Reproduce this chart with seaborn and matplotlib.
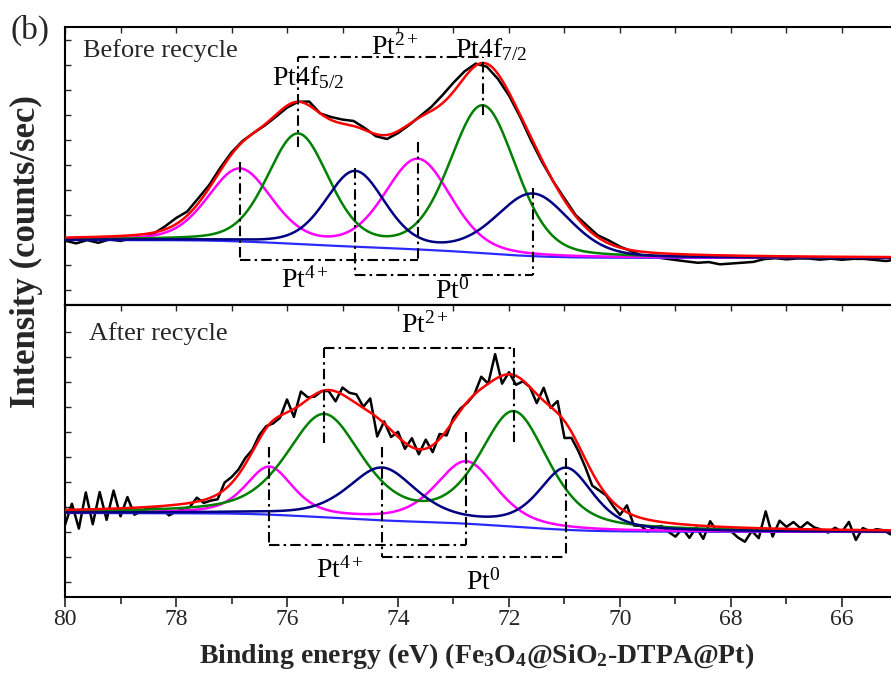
import numpy as np
import pandas as pd
import seaborn as sns
import matplotlib
matplotlib.use("Agg")
import matplotlib.pyplot as plt
from matplotlib.ticker import MultipleLocator, FixedLocator

# ---------------------------------------------------------------------------
# Pt 4f fit parameters (binding energy in eV, intensity in arbitrary units)
# order: Pt4+ 4f5/2, Pt4+ 4f7/2, Pt2+ 4f5/2, Pt2+ 4f7/2, Pt0 4f5/2, Pt0 4f7/2
# ---------------------------------------------------------------------------
species = ["Pt4+", "Pt4+", "Pt2+", "Pt2+", "Pt0", "Pt0"]

before_center = [76.85, 73.64, 75.80, 72.47, 74.77, 71.57]
before_height = [72, 90, 109, 147, 75, 62]
before_fwhm = [1.35, 1.40, 1.30, 1.40, 1.25, 1.55]
before_lorentz = 0.25
before_bg = [65, 47]          # Shirley background: high-BE end, low-BE end

after_center = [76.32, 72.77, 75.33, 71.91, 74.29, 70.97]
after_height = [47, 62, 101, 113, 52, 61]
after_fwhm = [1.00, 1.30, 1.60, 1.45, 1.45, 1.15]
after_lorentz = 0.5
after_bg = [84, 65]

# measured counts minus fitted envelope, 80 eV -> 65 eV
before_step = 0.2
resid_before = [
    -3, -6, -3, -6, -3,
    -5, -3, -4, -1, 3,
    6, 4, 5, 3, 3,
    2, 1, 0, -1, -2,
    -2, 0, 4, 0, 3,
    4, 5, 2, -2, -4,
    -2, -1, 1, 4, 8,
    9, 6, 2, -3, -5,
    -3, -2, -3, -2, 0,
    2, 1, 3, 2, 3,
    1, -1, -4, -4, -5,
    -6, -7, -8, -7, -9,
    -8, -7, -6, -3, -2,
    -3, -2, -2, -3, -2,
    -3, -2, -2, -3, -4,
    -2,
]

after_step = 0.125
resid_after = [
    -15, 6, -19, 17, -15, 17, -11, 18,
    -8, 11, -7, -4, -1, -2, -3, -10,
    -7, -5, -4, 4, -3, -3, -5, 7,
    6, 5, 6, 2, 4, 2, -3, -2,
    13, -8, 13, 2, -2, 0, -1, -10,
    7, 6, 9, 1, 14, -19, 2, -7,
    5, -6, 9, -5, 9, -7, 5, -5,
    3, 2, -1, 0, 12, 0, 25, -8,
    2, -9, -1, 0, -9, 13, -1, 12,
    -17, -6, -6, -8, -13, -6, -1, -4,
    -7, 7, -10, -8, -12, -6, -4, -9,
    -13, -4, -13, -2, -13, 5, -5, -3,
    -4, -10, -14, -3, -10, 17, -8, 8,
    2, 7, 1, 7, 2, 0, -3, 2,
    -2, 8, -10, 2, -1, 1, 0, -4,
    -2,
]

xticks_major = [80, 78, 76, 74, 72, 70, 68, 66]

colors = {"Pt4+": "#ff00ff", "Pt2+": "#008000", "Pt0": "#000080"}


def gl_peak(e, c, h, fwhm, eta):
    sigma = fwhm / 2.3548
    g = np.exp(-0.5 * ((e - c) / sigma) ** 2)
    lor = 1.0 / (1.0 + ((e - c) / (fwhm / 2.0)) ** 2)
    return h * ((1 - eta) * g + eta * lor)


def build_fit(center, height, fwhm, eta, bg_ends):
    fine = 0.025
    e = 80 - fine * np.arange(601)
    comps = {}
    for sp, c, h, w in zip(species, center, height, fwhm):
        comps[sp] = comps.get(sp, 0) + gl_peak(e, c, h, w, eta)
    total = sum(comps.values())
    # Shirley-type step: proportional to peak area on the low-BE side
    area = np.cumsum(total[::-1])[::-1]
    bg = bg_ends[1] + (bg_ends[0] - bg_ends[1]) * area / area[0]
    return e, comps, bg, bg + total


sns.set_theme(style="ticks")
plt.rcParams["font.family"] = ["Liberation Serif", "DejaVu Serif"]
plt.rcParams["mathtext.fontset"] = "custom"
plt.rcParams["mathtext.rm"] = "Liberation Serif"
plt.rcParams["mathtext.it"] = "Liberation Serif:italic"
plt.rcParams["mathtext.bf"] = "Liberation Serif:bold"

W, H = 891, 675
fig = plt.figure(figsize=(W / 100, H / 100), dpi=100)
ax_top = fig.add_axes([65 / W, 1 - 305 / H, 832.5 / W, 278 / H])
ax_bot = fig.add_axes([65 / W, 1 - 597 / H, 832.5 / W, 292 / H])

panels = [
    (ax_top, before_center, before_height, before_fwhm, before_lorentz,
     before_bg, before_step, resid_before, 278),
    (ax_bot, after_center, after_height, after_fwhm, after_lorentz,
     after_bg, after_step, resid_after, 292),
]

for ax, cen, hgt, fw, eta, bgp, step, resid, ytop in panels:
    e, comps, bg, env = build_fit(cen, hgt, fw, eta, bgp)
    idx = np.round(np.arange(len(resid)) * step / 0.025).astype(int)
    raw = pd.DataFrame({"BE": e[idx], "counts": env[idx] + np.array(resid)})
    sns.lineplot(data=raw, x="BE", y="counts", ax=ax, color="black",
                 lw=1.8, sort=False, estimator=None, zorder=2)
    sns.lineplot(x=e, y=bg, ax=ax, color="#2a2aff", lw=1.6, sort=False,
                 estimator=None, zorder=3)
    for sp in ["Pt4+", "Pt2+", "Pt0"]:
        sns.lineplot(x=e, y=bg + comps[sp], ax=ax, color=colors[sp], lw=1.8,
                     sort=False, estimator=None, zorder=3)
    sns.lineplot(x=e, y=env, ax=ax, color="#ff0000", lw=1.8, sort=False,
                 estimator=None, zorder=4)

    ax.set_xlim(80, 65)
    ax.set_ylim(0, ytop)
    ax.set_xlabel("")
    ax.set_ylabel("")
    ax.xaxis.set_major_locator(FixedLocator(xticks_major))
    ax.xaxis.set_minor_locator(MultipleLocator(1))
    ax.yaxis.set_major_locator(FixedLocator(np.arange(15, 270, 25)))
    ax.tick_params(axis="y", which="both", direction="in", length=4,
                   width=1.0, left=True, right=False, labelleft=False)
    for sp in ax.spines.values():
        sp.set_linewidth(1.5)
        sp.set_color("black")

# tick marks
ax_top.tick_params(axis="x", which="both", direction="in", top=True,
                   bottom=False, labelbottom=False, length=4, width=1.0)
ax_bot.tick_params(axis="x", which="major", direction="out", length=7.5,
                   width=1.2, labelsize=17, pad=1, top=False)
ax_bot.tick_params(axis="x", which="minor", direction="out", length=5,
                   width=1.2, top=False)
sec = ax_bot.secondary_xaxis("top")
sec.xaxis.set_major_locator(FixedLocator(xticks_major))
sec.xaxis.set_minor_locator(MultipleLocator(1))
sec.tick_params(axis="x", which="both", direction="in", length=4, width=1.0,
                labeltop=False)
sec.spines["top"].set_linewidth(1.5)

# dash-dot brackets grouping the spin-orbit doublets
dd = (0, (5, 2, 1.2, 2))


def bracket(ax, xs, ends, ybar):
    for x, y in zip(xs, ends):
        ax.plot([x, x], [y, ybar], color="black", lw=1.5, ls=dd, zorder=5)
    ax.plot([xs[0], xs[1]], [ybar, ybar], color="black", lw=1.5, ls=dd,
            zorder=5)


lab = dict(fontsize=20, color="black", zorder=6)

# before recycle
bracket(ax_top, [before_center[2], before_center[3]], [158, 190], 248)
bracket(ax_top, [before_center[0], before_center[1]], [143, 163], 45)
bracket(ax_top, [before_center[4], before_center[5]], [137, 117], 30)
ax_top.text(74.05, 250, r"Pt$^{2+}$", ha="center", va="baseline", **lab)
ax_top.text(75.68, 17, r"Pt$^{4+}$", ha="center", va="baseline", **lab)
ax_top.text(73.03, 6, r"Pt$^{0}$", ha="center", va="baseline", **lab)
ax_top.text(76.27, 220, r"Pt4f$_{5/2}$", ha="left", va="baseline", **lab)
ax_top.text(72.97, 248, r"Pt4f$_{7/2}$", ha="left", va="baseline", **lab)
ax_top.text(79.68, 248, "Before recycle", ha="left", va="baseline",
            fontsize=19)

# after recycle
bracket(ax_bot, [after_center[2], after_center[3]], [154, 155], 249)
bracket(ax_bot, [after_center[0], after_center[1]], [150, 165], 52)
bracket(ax_bot, [after_center[4], after_center[5]], [150, 139], 40)
ax_bot.text(73.51, 264, r"Pt$^{2+}$", ha="center", va="baseline", **lab)
ax_bot.text(75.05, 19, r"Pt$^{4+}$", ha="center", va="baseline", **lab)
ax_bot.text(72.47, 7, r"Pt$^{0}$", ha="center", va="baseline", **lab)
ax_bot.text(79.57, 257, "After recycle", ha="left", va="baseline",
            fontsize=19)

ax_bot.set_xlabel(r"Binding energy (eV) (Fe$_\mathbf{3}$O$_\mathbf{4}$@SiO$_\mathbf{2}$-DTPA@Pt)",
                  fontsize=20, fontweight="bold")
ax_bot.xaxis.set_label_coords(0.494, -0.150)
fig.text(26 / W, 1 - 252 / H, "Intensity (counts/sec)", rotation=90,
         ha="center", va="center", fontsize=25, fontweight="bold")
fig.text(10 / W, 1 - 30 / H, "(b)", ha="left", va="center", fontsize=24)

fig.savefig("out.png", dpi=100)
